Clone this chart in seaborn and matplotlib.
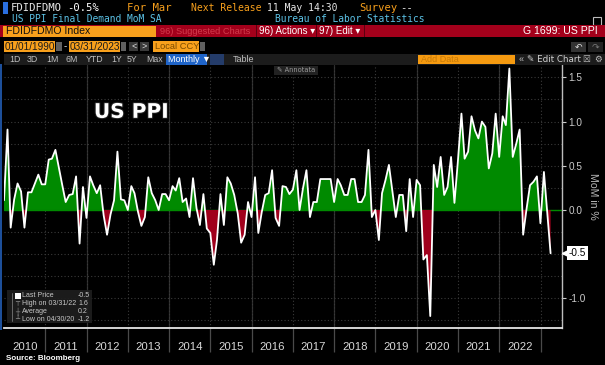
import matplotlib
matplotlib.use("Agg")
import numpy as np
import pandas as pd
import matplotlib.pyplot as plt
import matplotlib.dates as mdates
import matplotlib.patheffects as pe
from matplotlib import font_manager
from matplotlib.patches import Rectangle
from matplotlib.ticker import MultipleLocator, NullFormatter
import seaborn as sns

# US PPI Final Demand MoM % (SA), month-end values Dec 2009 .. Mar 2023
mom = [
    0.11,                                                                    # 2009 Dec
    0.91, -0.20, 0.12, 0.30, 0.21, -0.20, 0.20, 0.20, 0.30, 0.40, 0.29, 0.29,   # 2010
    0.57, 0.58, 0.68, 0.48, 0.28, 0.09, 0.17, 0.18, 0.38, -0.38, 0.26, -0.09,   # 2011
    0.38, 0.28, 0.19, 0.28, -0.06, -0.28, -0.05, 0.11, 0.66, 0.12, 0.11, 0.00,  # 2012
    0.27, 0.19, -0.02, -0.18, -0.08, 0.37, 0.19, 0.11, 0.00, 0.18, 0.18, 0.11,  # 2013
    0.27, 0.22, 0.36, 0.09, 0.13, -0.08, 0.36, 0.02, -0.17, 0.18, -0.21, -0.26, # 2014
    -0.62, -0.34, 0.18, -0.17, 0.37, 0.30, 0.17, -0.04, -0.37, -0.28, 0.09, -0.08,  # 2015
    0.37, -0.26, -0.02, 0.17, 0.19, 0.45, -0.09, -0.18, 0.27, 0.26, 0.18, 0.23, # 2016
    0.45, 0.00, 0.25, 0.45, -0.08, 0.09, 0.09, 0.35, 0.35, 0.35, 0.35, 0.09,    # 2017
    0.35, 0.28, 0.17, 0.17, 0.35, 0.35, 0.09, 0.09, 0.17, 0.68, -0.08, 0.00,    # 2018
    -0.34, 0.19, 0.34, 0.51, 0.21, -0.08, 0.17, 0.17, -0.24, 0.35, -0.08, 0.34, # 2019
    0.28, -0.56, -0.51, -1.20, 0.51, 0.26, 0.60, 0.17, 0.26, 0.60, 0.08, 0.56,  # 2020
    1.09, 0.58, 0.66, 1.06, 0.90, 0.81, 1.00, 0.94, 0.47, 0.64, 1.09, 0.60,     # 2021
    1.06, 0.96, 1.60, 0.60, 0.75, 0.91, -0.28, 0.02, 0.28, 0.32, 0.38, -0.15,   # 2022
    0.43, 0.00, -0.49,                                                       # 2023
]
first_month_start = "2010-01-01"
year_labels = list(range(2010, 2023))
y_ticks = [-1.0, -0.5, 0.0, 0.5, 1.0, 1.5]
stat_names = ["Last Price", "High on 03/31/22", "Average", "Low on 04/30/20"]
stat_values = ["-0.5", "1.6", "0.2", "-1.2"]

W, H = 605, 365
GREEN = "#008a00"
RED = "#a0001c"
ORANGE = "#f8a01c"
CYAN = "#5cc2e6"

names = {f.name for f in font_manager.fontManager.ttflist}
NARROW = "Liberation Sans Narrow" if "Liberation Sans Narrow" in names else "Liberation Sans"
SANS = [NARROW, "DejaVu Sans"]
MONO = ["DejaVu Sans Mono", "DejaVu Sans"]
SYM = ["DejaVu Sans"]

sns.set_theme(style="dark", rc={"axes.facecolor": "black", "figure.facecolor": "black"})
plt.rcParams["font.family"] = ["DejaVu Sans"]

fig = plt.figure(figsize=(W / 100, H / 100), dpi=100)


def fx(x):
    return x / W


def fy(y):
    return 1 - y / H


def box(x0, y0, x1, y1, color, z=1, **kw):
    fig.patches.append(Rectangle((fx(x0), fy(y1)), (x1 - x0) / W, (y1 - y0) / H,
                                 transform=fig.transFigure, facecolor=color,
                                 edgecolor="none", zorder=z, **kw))


def txt(x, y, s, color, size, family=SANS, **kw):
    fig.text(fx(x), fy(y), s, color=color, fontsize=size, family=family,
             va="center", **kw)


# ---- header rows ----
box(3, 2, 8, 14, "#2a6fe0")
txt(11, 8, "FDIDFDMO", "#e8e8e8", 7.6, MONO)
txt(67, 8, "-0.5%", "#ffffff", 7.6, MONO)
txt(127, 8, "For Mar", ORANGE, 7.6, MONO)
txt(191, 8, "Next Release", ORANGE, 7.0, MONO)
txt(267, 8, "11 May 14:30", "#e8e8e8", 7.0, MONO)
txt(359, 8, "Survey", ORANGE, 7.6, MONO)
txt(400, 8, "--", "#e8e8e8", 7.6, MONO)
txt(12, 19.5, "US PPI Final Demand MoM SA", CYAN, 6.9, MONO)
txt(275, 19.5, "Bureau of Labor Statistics", CYAN, 6.9, MONO)
fig.patches.append(Rectangle((fx(593), fy(25)), 8 / W, 8 / H, transform=fig.transFigure,
                             facecolor="none", edgecolor="#bbbbbb", lw=0.8))

box(0, 25, W, 37, "#a3001b")
box(3, 26, 156, 36.5, ORANGE, z=2)
txt(6, 31.2, "FDIDFDMO Index", "#101010", 7.6)
txt(160, 31.2, "96) Suggested Charts", "#d23c4c", 6.7)
box(256, 25, 256.8, 37, "#5a0010", z=2)
box(316, 25, 316.8, 37, "#5a0010", z=2)
box(364, 25, 364.8, 37, "#5a0010", z=2)
txt(259, 31.2, "96) Actions \u25be", "#ffffff", 7.0)
txt(319, 31.2, "97) Edit \u25be", "#ffffff", 7.0)
txt(598, 31.2, "G 1699: US PPI", "#ffffff", 7.6, ha="right")

box(4, 41, 55, 52, ORANGE)
txt(5, 46.5, "01/01/1990", "#1a1a1a", 7.2)
box(56, 42, 62, 51, "#606060")
txt(64, 46.5, "-", "#e0e0e0", 7)
box(69, 41, 120, 52, ORANGE)
txt(70, 46.5, "03/31/2023", "#1a1a1a", 7.2)
box(121, 42, 126, 51, "#606060")
box(129, 42, 138, 51, "#3a3a3a")
box(140, 42, 149, 51, "#3a3a3a")
txt(131, 46.5, "<", "#e0e0e0", 6.5)
txt(142, 46.5, ">", "#e0e0e0", 6.5)
box(153, 41, 199, 52, ORANGE)
txt(155, 46.5, "Local CCY", "#7a4a00", 6.7)
box(200, 42, 205, 51, "#606060")
box(571, 42, 586, 52, "#333333")
box(588, 42, 603, 52, "#222222")
txt(575, 47, "\u21b6", "#dddddd", 6.5, SYM)
txt(592, 47, "\u21b7", "#777777", 6.5, SYM)

box(4, 54, W, 64.5, "#1c1c1c")
for lx, lab in zip([9, 27, 46, 66, 86, 111, 127, 146],
                   ["1D", "3D", "1M", "6M", "YTD", "1Y", "5Y", "Max"]):
    txt(lx, 59.3, lab, "#c0c0c0", 6.3)
box(166, 54, 207, 64.5, "#1f64c8", z=2)
txt(168, 59.3, "Monthly \u25bc", "#ffffff", 6.5)
box(210, 54, 224, 64.5, "#243c6a", z=2)
txt(233, 59.3, "Table", "#c0c0c0", 6.5)
box(418, 54.5, 515, 64, "#f59a10", z=2)
txt(421, 59.3, "Add Data", "#c67a08", 6.5)
txt(519, 59.3, "\u00ab", "#c0c0c0", 6.5)
txt(527, 59.3, "\u270e Edit Chart", "#d0d0d0", 6.3, SYM)
txt(582, 59.3, "\u2612", "#c0c0c0", 6.3, SYM)
txt(594, 59.3, "\u2699", "#c0c0c0", 6.3, SYM)

# thin blue frame at the left edge of the chart area
box(0, 64, 1.6, 330, "#1d4f9a")

# ---- main chart ----
ax = fig.add_axes([fx(4), 37 / H, 558 / W, 263 / H])
ax.set_facecolor("black")

dates = pd.date_range(first_month_start, periods=len(mom), freq="MS") - pd.Timedelta(days=1)
df = pd.DataFrame({"date": dates, "mom": mom})
vals = df["mom"].to_numpy()

ax.axhline(0, color=GREEN, lw=1.0, zorder=1.5)
ax.fill_between(df["date"], 0, vals, where=vals >= 0, interpolate=True,
                color=GREEN, lw=0, zorder=2)
ax.fill_between(df["date"], 0, vals, where=vals <= 0, interpolate=True,
                color=RED, lw=0, zorder=2)
sns.lineplot(data=df, x="date", y="mom", ax=ax, color="white", lw=1.3, zorder=3)

ax.set_xlim(pd.Timestamp("2009-12-31"), pd.Timestamp("2023-07-10"))
ax.set_ylim(-1.335, 1.64)

# year separators (major) and centred year labels (minor)
year_starts = [pd.Timestamp(f"{y + 1}-01-01") for y in year_labels]
mid_years = [pd.Timestamp(f"{y}-07-02") for y in year_labels]
ax.set_xticks(year_starts)
ax.xaxis.set_major_formatter(NullFormatter())
ax.set_xticks(mid_years, minor=True)
ax.set_xticklabels([str(y) for y in year_labels], minor=True)
ax.tick_params(axis="x", which="major", length=17, width=0.9, color="#4a4a4a",
               direction="out", bottom=True)
ax.tick_params(axis="x", which="minor", length=0, pad=10, labelsize=8.2,
               labelcolor="#d8d8d8")
for lab in ax.get_xticklabels(minor=True):
    lab.set_family(SANS)
ax.set_xlabel("")

ax.yaxis.tick_right()
ax.set_yticks(y_ticks)
ax.set_yticklabels(["" if t == -0.5 else f"{t:.1f}" for t in y_ticks])
ax.yaxis.set_minor_locator(MultipleLocator(0.25))
ax.tick_params(axis="y", which="major", length=3, width=0.8, color="#cccccc",
               labelsize=7.2, labelcolor="#cccccc", pad=1.5, right=True)
ax.tick_params(axis="y", which="minor", length=0)
for lab in ax.get_yticklabels():
    lab.set_family(SANS)
ax.yaxis.set_label_position("right")
ax.set_ylabel("MoM in %", rotation=270, color="#b8b8b8", fontsize=7.6,
              labelpad=9, family=SANS)

ax.grid(False)
ax.grid(axis="y", which="both", color="#3a3a3a", lw=0.8, ls=(0, (1, 2)))
ax.grid(axis="x", which="major", color="#3a3a3a", lw=0.8, ls=(0, (1, 2)))
for ys in year_starts:
    if ys.year % 2 == 0:
        ax.axvline(ys, color="#2e2e2e", lw=0.9, zorder=0.5)

for side in ["top", "left"]:
    ax.spines[side].set_visible(False)
ax.spines["bottom"].set_color("#e6e6e6")
ax.spines["bottom"].set_linewidth(1.3)
ax.spines["right"].set_color("#bdbdbd")
ax.spines["right"].set_linewidth(1.0)

# last price tag on the right axis
yt = ax.get_yaxis_transform()
ax.plot([1.006], [vals[-1]], marker="<", ms=5, color="white", transform=yt,
        clip_on=False, zorder=5)
ax.text(1.012, vals[-1], f"{vals[-1]:.1f}", transform=yt, fontsize=7.2, color="black",
        va="center", ha="left", family=SANS, zorder=6,
        bbox=dict(boxstyle="square,pad=0.2", fc="white", ec="none"))

# chart title
ax.text(0.161, 0.82, "US PPI", transform=ax.transAxes, fontsize=14.5, fontweight="bold",
        color="white", va="center", ha="left", family="DejaVu Sans",
        path_effects=[pe.withStroke(linewidth=1.5, foreground="#202020")])

# annotate button
box(274, 66, 318, 75, "#222222", z=5)
txt(277, 70.5, "\u270e Annotata", "#9a9a9a", 4.8, SYM, zorder=6)

# ---- statistics legend (bottom-left) ----
box(7, 290, 92, 323, "#1e1e1e", z=5, alpha=0.92)
fig.lines.append(plt.Line2D([fx(12), fx(12)], [fy(293), fy(321)], transform=fig.transFigure,
                            color="#777777", lw=0.6, zorder=6))
box(15, 292.5, 20.5, 299, "white", z=6)
icons = ["", "\u252c", "\u253c", "\u2534"]
rows_y = [295.7, 303.5, 311.5, 319.3]
for ic, name, val, ry in zip(icons, stat_names, stat_values, rows_y):
    if ic:
        txt(15.5, ry, ic, "#909090", 5, SYM, zorder=6)
    txt(22, ry, name, "#c8c8c8", 5.0, zorder=6)
    txt(78, ry, val, "#c8c8c8", 5.0, zorder=6)

txt(6, 359, "Source: Bloomberg", "#ffffff", 5.8, fontweight="bold")

fig.savefig("out.png", dpi=100, facecolor="black")
